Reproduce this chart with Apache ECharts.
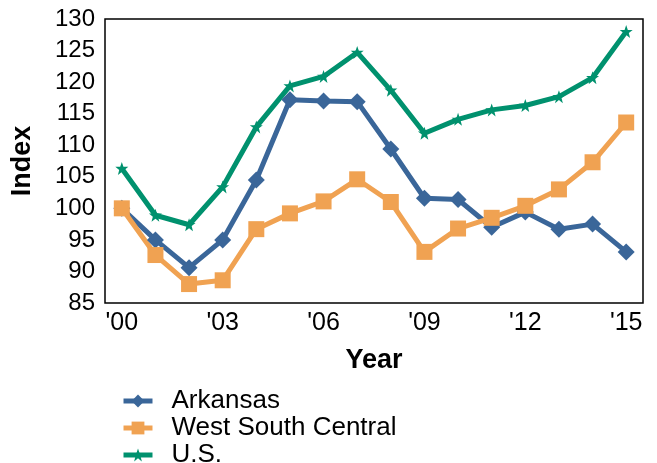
<!DOCTYPE html>
<html>
<head>
<meta charset="utf-8">
<script src="https://cdn.jsdelivr.net/npm/echarts@6/dist/echarts.min.js"></script>
<style>
  html, body { margin: 0; padding: 0; background: #fff; }
  #chart { width: 657px; height: 463px; }
</style>
</head>
<body>
<div id="chart"></div>
<script>
const years = ['2000', '2001', '2002', '2003', '2004', '2005', '2006', '2007',
  '2008', '2009', '2010', '2011', '2012', '2013', '2014', '2015'];
const arkansas = [100, 95.0, 90.6, 95.0, 104.5, 117.2, 117.0, 116.9,
  109.4, 101.6, 101.4, 97.0, 99.4, 96.7, 97.5, 93.1];
const westSouthCentral = [100, 92.6, 88.0, 88.6, 96.7, 99.2, 101.1, 104.6,
  101.0, 93.1, 96.8, 98.5, 100.4, 103.0, 107.3, 113.6];
const us = [106.3, 98.9, 97.4, 103.4, 112.9, 119.4, 120.9, 124.7,
  118.7, 111.9, 114.1, 115.6, 116.3, 117.7, 120.7, 128.0];

const font = 'Liberation Sans, Arial, sans-serif';
const chart = echarts.init(document.getElementById('chart'));

const mkSeries = (name, data, color, symbol, size) => ({
  name: name,
  type: 'line',
  data: data,
  symbol: symbol,
  symbolSize: size,
  lineStyle: { width: 5, color: color },
  itemStyle: { color: color },
  emphasis: { disabled: true }
});

chart.setOption({
  animation: false,
  textStyle: { fontFamily: font },
  grid: {
    left: 105, right: 14, top: 19, bottom: 160,
    show: true, borderColor: '#000', borderWidth: 1.5
  },
  legend: {
    orient: 'vertical',
    left: 116, top: 383,
    height: 120,
    itemGap: 1,
    itemWidth: 29, itemHeight: 16,
    lineStyle: { width: 5 },
    textStyle: { fontSize: 26, color: '#000', fontFamily: font, padding: [0, 0, 0, 14] },
    data: ['Arkansas', 'West South Central', 'U.S.']
  },
  xAxis: {
    type: 'category',
    data: years,
    boundaryGap: true,
    name: 'Year',
    nameLocation: 'middle',
    nameGap: 44,
    nameTextStyle: { fontSize: 27, fontWeight: 'bold', color: '#000' },
    axisLine: { show: false },
    axisTick: { show: false },
    axisLabel: {
      interval: 2,
      fontSize: 25, color: '#000', margin: 8,
      formatter: v => "'" + v.slice(2)
    },
    splitLine: { show: false }
  },
  yAxis: {
    type: 'value',
    min: 85, max: 130, interval: 5,
    name: 'Index',
    nameLocation: 'middle',
    nameGap: 69,
    nameTextStyle: { fontSize: 27, fontWeight: 'bold', color: '#000' },
    axisLine: { show: false },
    axisTick: { show: false },
    axisLabel: { fontSize: 24, color: '#000', margin: 10 },
    splitLine: { show: false }
  },
  series: [
    mkSeries('Arkansas', arkansas, '#3a6699', 'diamond', 17),
    mkSeries('West South Central', westSouthCentral, '#f0a252', 'rect', 16),
    mkSeries('U.S.', us, '#00916e', 'path://M0,-10 L2.5,-3 L10,-3 L4,1.5 L6,9 L0,4.5 L-6,9 L-4,1.5 L-10,-3 L-2.5,-3 Z', 13)
  ]
});
</script>
</body>
</html>
